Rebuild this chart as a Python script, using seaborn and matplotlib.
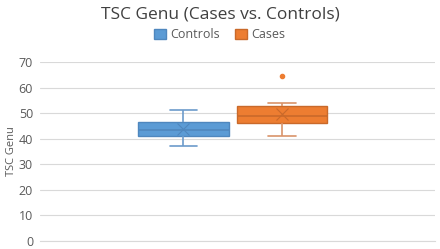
import numpy as np
import pandas as pd
import matplotlib.pyplot as plt
import seaborn as sns
from matplotlib.patches import Patch

controls = [37.0, 41.2, 43.4, 46.4, 51.4]
cases = [40.9, 42.0, 46.1, 47.0, 48.8, 49.5, 52.9, 54.0, 64.5]
groups = ["Controls", "Cases"]
yticks = [0, 10, 20, 30, 40, 50, 60, 70]

fills = {"Controls": "#5B9BD5", "Cases": "#ED7D31"}
edges = {"Controls": "#4F87BE", "Cases": "#C9692A"}
whisk = {"Controls": "#6C9BCB", "Cases": "#D9936A"}

df = pd.DataFrame({
    "group": ["Controls"] * len(controls) + ["Cases"] * len(cases),
    "value": controls + cases,
})
df["cat"] = ""

sns.set_style("white")
plt.rcParams["font.family"] = ["Open Sans", "DejaVu Sans"]
text_col = "#595959"

fig = plt.figure(figsize=(4.4, 2.49), dpi=100)
ax = fig.add_axes([0.091, 0.032, 0.898, 0.719])

sns.boxplot(data=df, x="cat", y="value", hue="group", hue_order=groups,
            palette=fills, width=0.5, gap=0.08, showmeans=True,
            meanprops=dict(marker="x", markersize=9),
            flierprops=dict(marker="o", markersize=3),
            legend=False, ax=ax)

for cont, g in zip(ax.containers, groups):
    for b in cont.boxes:
        b.set_facecolor(fills[g])
        b.set_edgecolor(edges[g])
        b.set_linewidth(1.0)
    for ln in list(cont.medians):
        ln.set_color(edges[g])
        ln.set_linewidth(1.2)
    for ln in list(cont.whiskers) + list(cont.caps):
        ln.set_color(whisk[g])
        ln.set_linewidth(1.2)
    # narrower caps, like the reference
    for ln in list(cont.caps):
        xd = np.asarray(ln.get_xdata(), dtype=float)
        c = xd.mean()
        ln.set_xdata(c + (xd - c) * 0.6)
    for ln in list(cont.means):
        ln.set_markeredgecolor(edges[g])
        ln.set_markerfacecolor(edges[g])
        ln.set_markeredgewidth(0.8)
    for ln in list(cont.fliers):
        ln.set_markerfacecolor(fills[g])
        ln.set_markeredgecolor(fills[g])

ax.set_xlim(-0.4875, 0.5125)
ax.set_ylim(0, 70)
ax.set_yticks(yticks)
ax.set_yticklabels([str(t) for t in yticks], color=text_col, fontsize=9)
ax.tick_params(axis="y", length=0, pad=5)
ax.set_xticks([])
ax.set_xlabel("")
ax.set_ylabel("TSC Genu", color=text_col, fontsize=8)
ax.yaxis.set_label_coords(-0.072, 0.5)
ax.yaxis.label.set_va("center")
ax.yaxis.grid(True, color="#D9D9D9", linewidth=0.8)
ax.set_axisbelow(True)
for s in ["top", "right", "left"]:
    ax.spines[s].set_visible(False)
ax.spines["bottom"].set_color("#D9D9D9")

fig.suptitle("TSC Genu (Cases vs. Controls)", x=0.5, y=0.975,
             fontsize=12.5, color="#404040")
handles = [Patch(facecolor=fills[g], edgecolor=edges[g], label=g) for g in groups]
fig.legend(handles=handles, loc="center", bbox_to_anchor=(0.5, 0.86), ncol=2,
           frameon=False, fontsize=9, labelcolor=text_col,
           handlelength=0.9, handleheight=0.9, handletextpad=0.4, columnspacing=1.2)

fig.savefig("out.png", dpi=100)
